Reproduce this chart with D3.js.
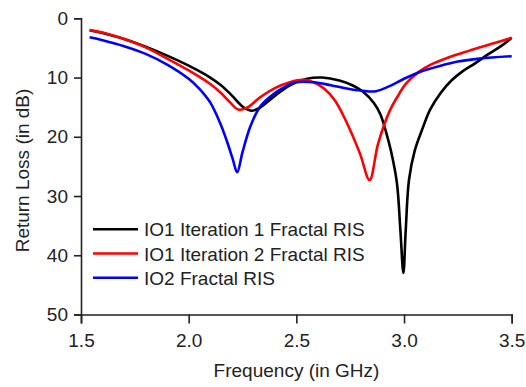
<!DOCTYPE html>
<html>
<head>
<meta charset="utf-8">
<script src="https://cdn.jsdelivr.net/npm/d3@7"></script>
<style>
  body { margin: 0; background: #fff; }
  text { font-family: "Liberation Sans", Arial, sans-serif; fill: #222; }
</style>
</head>
<body>
<svg id="chart"></svg>
<script>
// Series: [frequency GHz, return loss dB]
const iteration1 = [[1.54,2.0],[1.60,2.5],[1.70,3.5],[1.80,4.8],[1.90,6.3],[2.00,8.0],[2.10,10.0],[2.15,11.3],[2.20,13.0],[2.25,14.9],[2.29,15.6],[2.33,15.1],[2.40,13.1],[2.47,11.3],[2.55,10.2],[2.62,10.0],[2.70,10.5],[2.76,11.3],[2.81,12.4],[2.86,14.3],[2.89,16.2],[2.915,19.0],[2.94,22.5],[2.967,27.8],[2.983,35.7],[2.997,43.0],[3.008,35.7],[3.023,27.3],[3.05,22.3],[3.085,18.7],[3.12,15.5],[3.17,12.6],[3.22,10.5],[3.27,9.0],[3.33,7.6],[3.39,6.1],[3.45,4.7],[3.50,3.3]];
const iteration2 = [[1.54,2.0],[1.60,2.4],[1.70,3.5],[1.80,4.9],[1.90,6.8],[2.00,8.8],[2.05,9.9],[2.10,11.1],[2.15,12.6],[2.19,14.1],[2.23,15.4],[2.27,15.1],[2.33,13.4],[2.40,11.8],[2.47,10.8],[2.53,10.4],[2.58,10.8],[2.63,11.9],[2.68,13.9],[2.73,17.3],[2.795,22.8],[2.84,27.3],[2.88,21.1],[2.935,15.5],[2.97,13.2],[3.01,11.0],[3.07,9.0],[3.12,7.9],[3.20,6.7],[3.30,5.5],[3.40,4.4],[3.50,3.3]];
const io2 = [[1.54,3.2],[1.60,3.7],[1.70,4.7],[1.80,6.0],[1.90,7.8],[2.00,10.2],[2.05,11.9],[2.10,14.2],[2.145,17.6],[2.18,21.0],[2.205,23.8],[2.225,26.0],[2.25,22.6],[2.285,18.4],[2.33,15.0],[2.38,13.2],[2.44,11.7],[2.50,10.8],[2.58,10.8],[2.66,11.3],[2.74,11.9],[2.82,12.3],[2.87,12.3],[2.93,11.5],[3.00,10.2],[3.07,9.1],[3.17,8.0],[3.25,7.3],[3.35,6.8],[3.50,6.4]];

const seriesNames = ["IO1 Iteration 1 Fractal RIS", "IO1 Iteration 2 Fractal RIS", "IO2 Fractal RIS"];
const seriesColors = ["#000000", "#ff0000", "#0000ff"];
const xTicks = [1.5, 2.0, 2.5, 3.0, 3.5];
const yTicks = [0, 10, 20, 30, 40, 50];

const width = 526, height = 387;
const margin = {top: 18.3, right: 14.3, bottom: 72.5, left: 81};

const svg = d3.select("#chart")
    .attr("width", width)
    .attr("height", height);

// Scales
const x = d3.scaleLinear().domain([1.5, 3.5]).range([margin.left, width - margin.right]);
const y = d3.scaleLinear().domain([0, 50]).range([margin.top, height - margin.bottom]);

// X axis with minor ticks
const xAxis = svg.append("g")
    .attr("transform", `translate(0, ${height - margin.bottom})`);
xAxis.call(d3.axisBottom(x).tickValues(d3.range(1.5, 3.51, 0.25)).tickSize(4).tickFormat(""));
xAxis.call(d3.axisBottom(x).tickValues(xTicks).tickSize(9).tickFormat(d3.format(".1f")).tickPadding(6));

// Y axis with minor ticks
const yAxis = svg.append("g")
    .attr("transform", `translate(${margin.left}, 0)`);
yAxis.call(d3.axisLeft(y).tickValues(d3.range(0, 51, 5)).tickSize(4).tickFormat(""));
yAxis.call(d3.axisLeft(y).tickValues(yTicks).tickSize(7).tickPadding(6));

svg.selectAll(".domain").attr("stroke", "#222").attr("stroke-width", 1.6);
svg.selectAll(".tick line").attr("stroke", "#222").attr("stroke-width", 1.6);
svg.selectAll(".tick text").style("font-size", "19px").attr("fill", "#222");
xAxis.selectAll(".tick text").attr("dy", "0.9em");

// Axis titles
svg.append("text")
    .attr("x", 296.5)
    .attr("y", 377)
    .attr("text-anchor", "middle")
    .style("font-size", "19px")
    .text("Frequency (in GHz)");

svg.append("text")
    .attr("transform", `translate(29, 170.5) rotate(-90)`)
    .attr("text-anchor", "middle")
    .style("font-size", "19px")
    .text("Return Loss (in dB)");

// Lines
const line = d3.line()
    .x(d => x(d[0]))
    .y(d => y(d[1]))
    .curve(d3.curveCatmullRom.alpha(0.5));

[iteration1, iteration2, io2].forEach((data, i) => {
    svg.append("path")
        .datum(data)
        .attr("fill", "none")
        .attr("stroke", seriesColors[i])
        .attr("stroke-width", 2.6)
        .attr("stroke-linejoin", "round")
        .attr("d", line);
});

// Legend
const legend = svg.append("g")
    .attr("transform", "translate(93, 229.3)");

legend.selectAll(".legend-item")
    .data(seriesNames)
    .enter()
    .append("g")
    .attr("class", "legend-item")
    .attr("transform", (d, i) => `translate(0, ${i * 24.2})`)
    .each(function (d, i) {
        d3.select(this)
            .append("line")
            .attr("x1", 0)
            .attr("x2", 45)
            .attr("stroke", seriesColors[i])
            .attr("stroke-width", 2.6);

        d3.select(this)
            .append("text")
            .attr("x", 51)
            .attr("y", 7)
            .style("font-size", "19px")
            .text(d);
    });
</script>
</body>
</html>
